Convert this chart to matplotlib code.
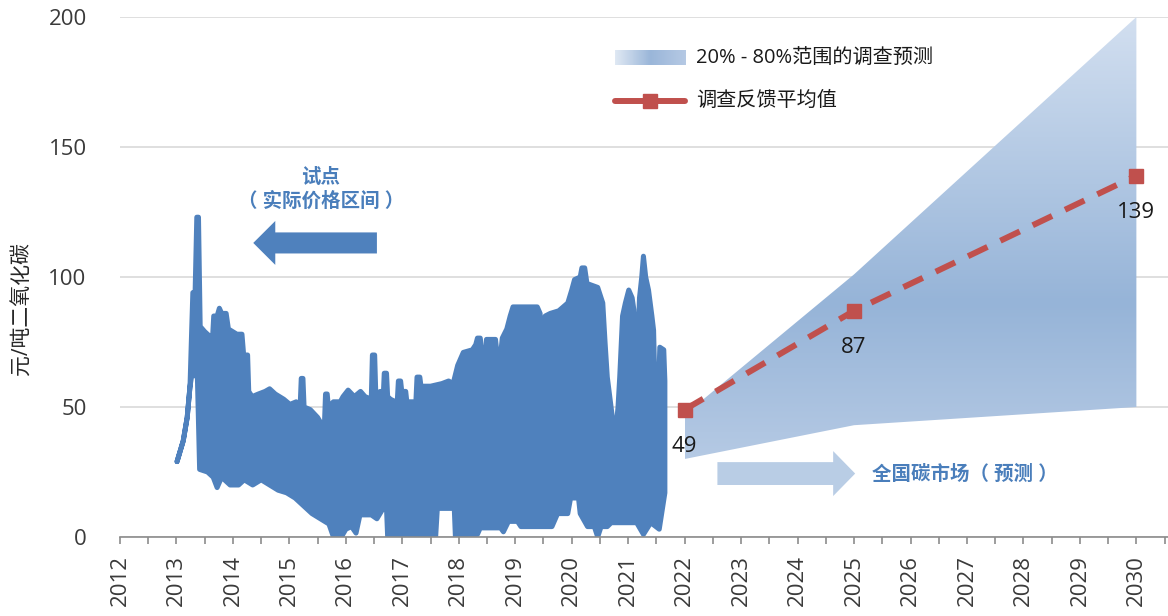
import numpy as np
import matplotlib
matplotlib.use("Agg")
import matplotlib.pyplot as plt
from matplotlib.patches import Polygon, FancyArrow
from matplotlib.lines import Line2D
from matplotlib.colors import LinearSegmentedColormap

plt.rcParams['font.family'] = ['Open Sans', 'Noto Sans CJK SC', 'DejaVu Sans']

# 试点碳市场价格区间（上沿 / 下沿）
high_years = [2013.01, 2013.12, 2013.19, 2013.24, 2013.27, 2013.29, 2013.33, 2013.36, 2013.39,
              2013.42, 2013.50, 2013.60, 2013.64, 2013.66, 2013.72, 2013.76, 2013.80, 2013.88,
              2013.92, 2014.07, 2014.16, 2014.19, 2014.26, 2014.28, 2014.34, 2014.45, 2014.57,
              2014.65, 2014.75, 2014.90, 2015.01, 2015.12, 2015.19, 2015.21, 2015.24, 2015.26,
              2015.37, 2015.50, 2015.58, 2015.62, 2015.64, 2015.67, 2015.69, 2015.78, 2015.90,
              2015.95, 2016.04, 2016.15, 2016.26, 2016.34, 2016.45, 2016.47, 2016.51, 2016.53,
              2016.61, 2016.66, 2016.68, 2016.72, 2016.74, 2016.79, 2016.88, 2016.91, 2016.93,
              2016.97, 2016.99, 2017.06, 2017.08, 2017.24, 2017.26, 2017.31, 2017.33, 2017.50,
              2017.70, 2017.82, 2017.90, 2017.98, 2018.08, 2018.24, 2018.30, 2018.33, 2018.38,
              2018.42, 2018.44, 2018.47, 2018.49, 2018.65, 2018.68, 2018.74, 2018.77, 2018.85,
              2018.91, 2018.96, 2019.39, 2019.44, 2019.46, 2019.50, 2019.53, 2019.62, 2019.77,
              2019.93, 2020.00, 2020.05, 2020.15, 2020.18, 2020.23, 2020.27, 2020.46, 2020.55,
              2020.59, 2020.63, 2020.72, 2020.79, 2020.82, 2020.85, 2020.90, 2020.95, 2021.01,
              2021.07, 2021.10, 2021.13, 2021.17, 2021.20, 2021.24, 2021.27, 2021.31, 2021.36,
              2021.42, 2021.45, 2021.48, 2021.53, 2021.56, 2021.63, 2021.65]
high_vals = [29, 37, 46, 58, 80, 94, 94, 123, 123,
             81, 79, 77, 77, 85, 85, 88, 86, 86,
             80, 78, 78, 70, 70, 56, 54, 55, 56,
             57, 55, 53, 51, 52, 50, 61, 61, 50,
             49, 46, 43, 43, 55, 55, 50, 52, 52,
             54, 56.5, 54, 56, 54, 53, 70, 70, 55,
             56, 53, 63, 63, 54, 53, 52, 52, 60,
             60, 56, 56, 52, 52, 61.5, 61.5, 58, 58,
             59, 60, 59, 66, 71, 72, 74, 76.5, 76.5,
             70, 61.5, 61.5, 76, 76, 70, 70, 76.5, 80,
             85, 88.5, 88.5, 86, 77, 77, 85, 86, 87,
             90, 95, 99, 100, 103.5, 103.5, 97.5, 96, 90,
             75, 61.5, 46, 43, 50, 61.5, 85, 90, 95,
             92, 87.5, 73, 73, 92, 100, 108, 100, 95,
             85, 79.5, 51.5, 51.5, 73, 72, 60]
low_years = [2013.01, 2013.12, 2013.19, 2013.24, 2013.27, 2013.37, 2013.41, 2013.55, 2013.65,
             2013.72, 2013.80, 2013.95, 2014.10, 2014.20, 2014.35, 2014.50, 2014.65, 2014.80,
             2014.95, 2015.10, 2015.25, 2015.40, 2015.55, 2015.70, 2015.78, 2015.92, 2016.00,
             2016.10, 2016.18, 2016.25, 2016.45, 2016.55, 2016.66, 2016.72, 2016.74, 2017.59,
             2017.62, 2017.92, 2017.94, 2018.10, 2018.15, 2018.33, 2018.38, 2018.74, 2018.79,
             2018.88, 2019.04, 2019.10, 2019.65, 2019.75, 2019.93, 2019.98, 2020.12, 2020.15,
             2020.28, 2020.40, 2020.46, 2020.52, 2020.63, 2020.70, 2021.15, 2021.27, 2021.40,
             2021.55, 2021.65]
low_vals = [29, 37, 46, 58, 62, 62, 26, 25, 23,
            19, 23, 20, 20, 22, 20, 22, 20, 18,
            17, 15, 12, 9, 7, 5, 0, 0, 3,
            4, 1.5, 8.5, 8.5, 7, 11, 11, 0, 0,
            11, 11, 0, 0, 1, 1, 3.5, 3.5, 2,
            6, 6, 4, 4, 9, 9, 15, 15, 9,
            4, 4, 0, 4, 4, 5.5, 5.5, 1, 5.5,
            3, 17]

# 全国碳市场预测
fc_years = [2022, 2025, 2030]
fc_low = [30, 43, 50]
fc_high = [47, 101, 200]
fc_mean = [49, 87, 139]

year_ticks = list(range(2012, 2031))
y_ticks = [0, 50, 100, 150, 200]

blue = '#4f81bd'
red = '#c0504d'

fig = plt.figure(figsize=(11.68, 6.16), dpi=100)
ax = fig.add_axes([120 / 1168, 1 - 537 / 616, 1048 / 1168, 520 / 616])

# 网格线和坐标轴
ax.set_yticks(y_ticks)
ax.yaxis.grid(True, color='#d9d9d9', lw=1.2, zorder=0)
ax.set_axisbelow(True)
for s in ['left', 'right', 'top']:
    ax.spines[s].set_visible(False)
ax.spines['bottom'].set_color('#8c8c8c')
ax.spines['bottom'].set_linewidth(1.2)
ax.spines['bottom'].set_zorder(5)
ax.set_xticks(year_ticks)
ax.set_xticks(np.arange(2012.5, 2031, 1.0), minor=True)
ax.set_xticklabels([str(y) for y in year_ticks], rotation=90)
ax.tick_params(axis='x', which='both', direction='out', length=5, width=1.2,
               color='#8c8c8c', labelsize=16, labelcolor='#3a3a3a', pad=8)
ax.tick_params(axis='y', length=0, labelsize=16, labelcolor='#3a3a3a', pad=24)
ax.set_ylabel('元/吨二氧化碳', fontsize=15, color='#262626', va='center')
ax.yaxis.set_label_coords(-0.0935, 0.44)

# 试点价格区间
px = list(high_years) + list(low_years[::-1])
py = list(high_vals) + list(low_vals[::-1])
ax.fill(px, py, facecolor=blue, edgecolor=blue, lw=3.6, joinstyle='round',
        capstyle='round', zorder=3)

# 预测区间（渐变）
band = Polygon(np.column_stack([fc_years + fc_years[::-1], fc_high + fc_low[::-1]]),
               closed=True, facecolor='none', edgecolor='none')
ax.add_patch(band)
cmap = LinearSegmentedColormap.from_list(
    'band', [(0.0, '#c4d5eb'), (0.2, '#b0c6e2'), (0.45, '#96b4d8'), (1.0, '#d2dff0')])
grad = np.linspace(0, 1, 256).reshape(-1, 1)
gx = np.linspace(0, 1, 64).reshape(1, -1)
img = ax.imshow(grad * np.ones_like(gx), extent=(2022, 2030, 0, 200), origin='lower',
                aspect='auto', cmap=cmap, zorder=2, interpolation='bilinear')
img.set_clip_path(band)

# 平均值
ax.plot(fc_years, fc_mean, color=red, lw=4.3, dashes=(3.6, 2.4), marker='s',
        markersize=10, markerfacecolor=red, markeredgecolor=red, zorder=6)
for x, v in zip(fc_years, fc_mean):
    ax.text(x, v - 14, str(v), ha='center', va='center', fontsize=16, color='#1a1a1a', zorder=7)

# 箭头和说明
ax.add_patch(FancyArrow(2016.55, 113.1, 2014.36 - 2016.55, 0, width=8.1, head_width=16.9,
                        head_length=0.39, length_includes_head=True, color=blue, lw=0, zorder=4))
ax.text(2015.56, 133.5, '试点\n（ 实际价格区间 ）', ha='center', va='center', fontsize=14,
        color='#4a7ebb', fontweight='bold', linespacing=1.2, zorder=4)
ax.add_patch(FancyArrow(2022.58, 24.4, 2025.02 - 2022.58, 0, width=8.8, head_width=17.3,
                        head_length=0.39, length_includes_head=True, color='#b9cde5', lw=0,
                        zorder=4))
ax.text(2025.32, 23.8, '全国碳市场（ 预测 ）', ha='left', va='center', fontsize=14,
        color='#4a7ebb', fontweight='bold', zorder=4)

# 图例
lg = np.linspace(0, 1, 64).reshape(1, -1)
lcmap = LinearSegmentedColormap.from_list('lg', ['#dfe8f3', '#9ab6d9', '#b5c9e4'])
ax.imshow(lg, extent=(0.472, 0.539, 0.907, 0.935), transform=ax.transAxes,
          aspect='auto', cmap=lcmap, zorder=6)
ax.set_xlim(2012, 2030.56)
ax.set_ylim(0, 200)
ax.text(0.550, 0.921, '20% - 80%范围的调查预测', transform=ax.transAxes, ha='left',
        va='center', fontsize=14.5, color='#1a1a1a')
ax.add_line(Line2D([0.472, 0.539], [0.8385, 0.8385], transform=ax.transAxes, color=red,
                   lw=4.3, solid_capstyle='round'))
ax.add_line(Line2D([0.5055], [0.8385], transform=ax.transAxes, color=red, marker='s',
                   markersize=10, lw=0))
ax.text(0.550, 0.8385, '调查反馈平均值', transform=ax.transAxes, ha='left',
        va='center', fontsize=14.5, color='#1a1a1a')

fig.savefig('out.png', dpi=100)
